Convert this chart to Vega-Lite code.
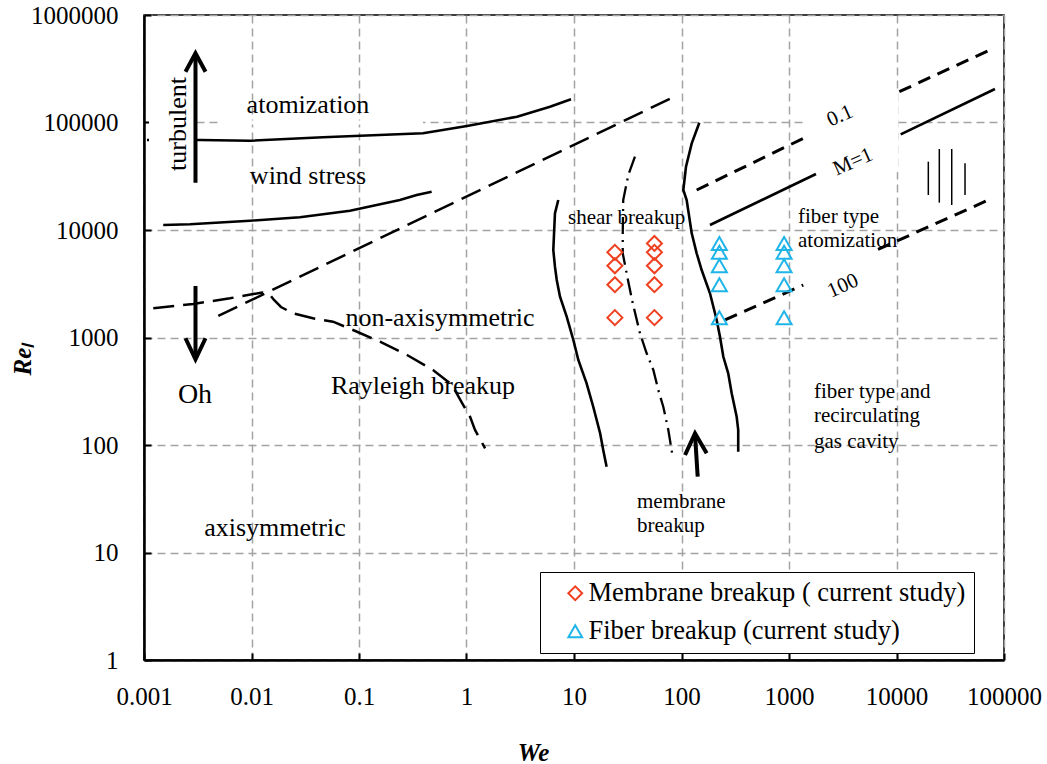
{
  "$schema": "https://vega.github.io/schema/vega-lite/v6.json",
  "width": 860,
  "height": 645,
  "autosize": {"type": "none"},
  "padding": {"left": 144, "top": 15, "right": 43, "bottom": 104},
  "background": "white",
  "config": {
    "view": {"stroke": "black", "strokeWidth": 1.5},
    "font": "Liberation Serif",
    "axis": {
      "grid": true,
      "gridColor": "#a3a3a3",
      "gridDash": [8, 5],
      "gridWidth": 1.5,
      "domainColor": "black",
      "domainWidth": 2.5,
      "tickColor": "black",
      "tickWidth": 2,
      "tickSize": -7,
      "labelFont": "Liberation Serif",
      "labelFontSize": 25,
      "labelColor": "black",
      "labelFlush": false,
      "labelOverlap": false,
      "titleFont": "Liberation Serif",
      "titleFontSize": 25,
      "titleFontStyle": "italic",
      "titleFontWeight": "bold",
      "titleColor": "black"
    }
  },
  "datasets": {
    "solid": [
      {"s": "atomization", "i": 0, "We": 0.001066, "Re": 68700},
      {"s": "atomization", "i": 1, "We": 0.00332, "Re": 68700},
      {"s": "atomization", "i": 2, "We": 0.00968, "Re": 67700},
      {"s": "atomization", "i": 3, "We": 0.0462, "Re": 72800},
      {"s": "atomization", "i": 4, "We": 0.394, "Re": 79300},
      {"s": "atomization", "i": 5, "We": 1.01, "Re": 92800},
      {"s": "atomization", "i": 6, "We": 2.95, "Re": 113200},
      {"s": "atomization", "i": 7, "We": 5.98, "Re": 140300},
      {"s": "atomization", "i": 8, "We": 9.38, "Re": 164300},
      {"s": "windstress", "i": 0, "We": 0.00151, "Re": 11130},
      {"s": "windstress", "i": 1, "We": 0.00268, "Re": 11300},
      {"s": "windstress", "i": 2, "We": 0.00968, "Re": 12200},
      {"s": "windstress", "i": 3, "We": 0.0282, "Re": 13130},
      {"s": "windstress", "i": 4, "We": 0.0824, "Re": 15130},
      {"s": "windstress", "i": 5, "We": 0.24, "Re": 19010},
      {"s": "windstress", "i": 6, "We": 0.344, "Re": 21170},
      {"s": "windstress", "i": 7, "We": 0.474, "Re": 22720},
      {"s": "shear", "i": 0, "We": 7.14, "Re": 19010},
      {"s": "shear", "i": 1, "We": 6.65, "Re": 14290},
      {"s": "shear", "i": 2, "We": 6.42, "Re": 6510},
      {"s": "shear", "i": 3, "We": 6.65, "Re": 4560},
      {"s": "shear", "i": 4, "We": 6.91, "Re": 3430},
      {"s": "shear", "i": 5, "We": 7.41, "Re": 2400},
      {"s": "shear", "i": 6, "We": 8.55, "Re": 1561},
      {"s": "shear", "i": 7, "We": 9.86, "Re": 948},
      {"s": "shear", "i": 8, "We": 10.97, "Re": 618},
      {"s": "shear", "i": 9, "We": 13.1, "Re": 375},
      {"s": "shear", "i": 10, "We": 15.1, "Re": 227},
      {"s": "shear", "i": 11, "We": 17.5, "Re": 128.5},
      {"s": "shear", "i": 12, "We": 18.7, "Re": 89.8},
      {"s": "shear", "i": 13, "We": 20.1, "Re": 62.8},
      {"s": "fiber", "i": 0, "We": 146.5, "Re": 99600},
      {"s": "fiber", "i": 1, "We": 124.5, "Re": 63900},
      {"s": "fiber", "i": 2, "We": 110.1, "Re": 38800},
      {"s": "fiber", "i": 3, "We": 104, "Re": 23550},
      {"s": "fiber", "i": 4, "We": 111.7, "Re": 19010},
      {"s": "fiber", "i": 5, "We": 124.5, "Re": 9310},
      {"s": "fiber", "i": 6, "We": 138.4, "Re": 6070},
      {"s": "fiber", "i": 7, "We": 154, "Re": 4245},
      {"s": "fiber", "i": 8, "We": 184, "Re": 2578},
      {"s": "fiber", "i": 9, "We": 212.5, "Re": 1455},
      {"s": "fiber", "i": 10, "We": 228, "Re": 1017},
      {"s": "fiber", "i": 11, "We": 245, "Re": 662},
      {"s": "fiber", "i": 12, "We": 272, "Re": 464},
      {"s": "fiber", "i": 13, "We": 293, "Re": 303},
      {"s": "fiber", "i": 14, "We": 326, "Re": 183},
      {"s": "fiber", "i": 15, "We": 337, "Re": 138},
      {"s": "fiber", "i": 16, "We": 337, "Re": 86.7},
      {"s": "mach1a", "i": 0, "We": 184, "Re": 11130},
      {"s": "mach1a", "i": 1, "We": 1782, "Re": 33180},
      {"s": "mach1b", "i": 0, "We": 10940, "Re": 77640},
      {"s": "mach1b", "i": 1, "We": 82400, "Re": 205000}
    ],
    "longdash": [
      {"s": "diagonal", "i": 0, "We": 0.00491, "Re": 1585},
      {"s": "diagonal", "i": 1, "We": 85.2, "Re": 173800},
      {"s": "rayleigh", "i": 0, "We": 0.00122, "Re": 1869},
      {"s": "rayleigh", "i": 1, "We": 0.00286, "Re": 2050},
      {"s": "rayleigh", "i": 2, "We": 0.00631, "Re": 2317},
      {"s": "rayleigh", "i": 3, "We": 0.01253, "Re": 2622},
      {"s": "rayleigh", "i": 4, "We": 0.01486, "Re": 2485},
      {"s": "rayleigh", "i": 5, "We": 0.0162, "Re": 2233},
      {"s": "rayleigh", "i": 6, "We": 0.01881, "Re": 1922},
      {"s": "rayleigh", "i": 7, "We": 0.0243, "Re": 1679},
      {"s": "rayleigh", "i": 8, "We": 0.0373, "Re": 1510},
      {"s": "rayleigh", "i": 9, "We": 0.0573, "Re": 1403},
      {"s": "rayleigh", "i": 10, "We": 0.0879, "Re": 1175},
      {"s": "rayleigh", "i": 11, "We": 0.1566, "Re": 914},
      {"s": "rayleigh", "i": 12, "We": 0.28, "Re": 687},
      {"s": "rayleigh", "i": 13, "We": 0.488, "Re": 499},
      {"s": "rayleigh", "i": 14, "We": 0.733, "Re": 362},
      {"s": "rayleigh", "i": 15, "We": 0.908, "Re": 246},
      {"s": "rayleigh", "i": 16, "We": 1.08, "Re": 183},
      {"s": "rayleigh", "i": 17, "We": 1.2, "Re": 138},
      {"s": "rayleigh", "i": 18, "We": 1.49, "Re": 93}
    ],
    "shortdash": [
      {"s": "m01a", "i": 0, "We": 138.4, "Re": 23550},
      {"s": "m01a", "i": 1, "We": 1462, "Re": 73800},
      {"s": "m01b", "i": 0, "We": 10620, "Re": 193400},
      {"s": "m01b", "i": 1, "We": 71450, "Re": 465500},
      {"s": "m100a", "i": 0, "We": 254, "Re": 1455},
      {"s": "m100a", "i": 1, "We": 1358, "Re": 3077},
      {"s": "m100b", "i": 0, "We": 6730, "Re": 6600},
      {"s": "m100b", "i": 1, "We": 74100, "Re": 19310}
    ],
    "dashdot": [
      {"s": "membrane", "i": 0, "We": 36.9, "Re": 48080},
      {"s": "membrane", "i": 1, "We": 32.0, "Re": 32500},
      {"s": "membrane", "i": 2, "We": 28.7, "Re": 19010},
      {"s": "membrane", "i": 3, "We": 28.4, "Re": 9310},
      {"s": "membrane", "i": 4, "We": 28.4, "Re": 6070},
      {"s": "membrane", "i": 5, "We": 31.3, "Re": 3680},
      {"s": "membrane", "i": 6, "We": 35.2, "Re": 2080},
      {"s": "membrane", "i": 7, "We": 41.1, "Re": 1094},
      {"s": "membrane", "i": 8, "We": 47.4, "Re": 713},
      {"s": "membrane", "i": 9, "We": 54.7, "Re": 499},
      {"s": "membrane", "i": 10, "We": 60.8, "Re": 325},
      {"s": "membrane", "i": 11, "We": 67.7, "Re": 227},
      {"s": "membrane", "i": 12, "We": 75.4, "Re": 138},
      {"s": "membrane", "i": 13, "We": 82.8, "Re": 77.8}
    ],
    "arrows": [
      {"s": "turbShaft", "i": 0, "We": 0.003013, "Re": 27540},
      {"s": "turbShaft", "i": 1, "We": 0.003013, "Re": 430000},
      {"s": "turbHead", "i": 0, "We": 0.002432, "Re": 297000},
      {"s": "turbHead", "i": 1, "We": 0.003013, "Re": 440400},
      {"s": "turbHead", "i": 2, "We": 0.003736, "Re": 297000},
      {"s": "ohShaft", "i": 0, "We": 0.003013, "Re": 3013},
      {"s": "ohShaft", "i": 1, "We": 0.003013, "Re": 640},
      {"s": "ohHead", "i": 0, "We": 0.002432, "Re": 984},
      {"s": "ohHead", "i": 1, "We": 0.003013, "Re": 627},
      {"s": "ohHead", "i": 2, "We": 0.003736, "Re": 984},
      {"s": "memShaft", "i": 0, "We": 141.5, "Re": 50.7},
      {"s": "memShaft", "i": 1, "We": 133.6, "Re": 125},
      {"s": "memHead", "i": 0, "We": 107.9, "Re": 80.7},
      {"s": "memHead", "i": 1, "We": 133.6, "Re": 128.5},
      {"s": "memHead", "i": 2, "We": 171.5, "Re": 83.7}
    ],
    "hatch": [
      {"We": 19770, "Re": 43190, "Re2": 21170},
      {"We": 25020, "Re": 56700, "Re2": 17950},
      {"We": 32640, "Re": 56700, "Re2": 17090},
      {"We": 43390, "Re": 41730, "Re2": 21170}
    ],
    "gridMasks": [
      {"We": 0.00531, "We2": 0.394, "Re": 95940, "Re2": 104230},
      {"We": 1469, "We2": 10330, "Re": 34640, "Re2": 188000}
    ],
    "labelMask": [
      {"We": 0.001113, "We2": 0.00311, "Re": 26220, "Re2": 381400}
    ],
    "points": [
      {"series": "Membrane breakup ( current study)", "We": 24, "Re": 6200},
      {"series": "Membrane breakup ( current study)", "We": 24, "Re": 4650},
      {"series": "Membrane breakup ( current study)", "We": 24, "Re": 3100},
      {"series": "Membrane breakup ( current study)", "We": 24, "Re": 1530},
      {"series": "Membrane breakup ( current study)", "We": 56, "Re": 7500},
      {"series": "Membrane breakup ( current study)", "We": 56, "Re": 6200},
      {"series": "Membrane breakup ( current study)", "We": 56, "Re": 4650},
      {"series": "Membrane breakup ( current study)", "We": 56, "Re": 3100},
      {"series": "Membrane breakup ( current study)", "We": 56, "Re": 1530},
      {"series": "Fiber breakup (current study)", "We": 225, "Re": 7500},
      {"series": "Fiber breakup (current study)", "We": 225, "Re": 6200},
      {"series": "Fiber breakup (current study)", "We": 225, "Re": 4650},
      {"series": "Fiber breakup (current study)", "We": 225, "Re": 3100},
      {"series": "Fiber breakup (current study)", "We": 225, "Re": 1530},
      {"series": "Fiber breakup (current study)", "We": 900, "Re": 7500},
      {"series": "Fiber breakup (current study)", "We": 900, "Re": 6200},
      {"series": "Fiber breakup (current study)", "We": 900, "Re": 4650},
      {"series": "Fiber breakup (current study)", "We": 900, "Re": 3100},
      {"series": "Fiber breakup (current study)", "We": 900, "Re": 1530}
    ],
    "regimeLabels": [
      {"t": "atomization", "We": 0.03354, "Re": 145500},
      {"t": "wind stress", "We": 0.03354, "Re": 31790},
      {"t": "non-axisymmetric", "We": 0.5669, "Re": 1519},
      {"t": "Rayleigh breakup", "We": 0.3938, "Re": 353.9},
      {"t": "axisymmetric", "We": 0.01654, "Re": 16.9}
    ],
    "ohLabel": [
      {"t": "Oh", "We": 0.002981, "Re": 291.8}
    ],
    "turbLabel": [
      {"t": "turbulent", "We": 0.002071, "Re": 96830}
    ],
    "noteLabels": [
      {"t": "shear breakup", "We": 8.79, "Re": 12930},
      {"t": "fiber type", "We": 1213, "Re": 13210},
      {"t": "atomization", "We": 1213, "Re": 7901},
      {"t": "membrane", "We": 38.55, "Re": 29.5},
      {"t": "breakup", "We": 38.55, "Re": 17.64},
      {"t": "fiber type and", "We": 1708, "Re": 311.2},
      {"t": "recirculating", "We": 1708, "Re": 186.1},
      {"t": "gas cavity", "We": 1708, "Re": 106.6}
    ],
    "lineLabels": [
      {"t": "0.1", "We": 2982, "Re": 114960},
      {"t": "M=1", "We": 3938, "Re": 42920},
      {"t": "100", "We": 3180, "Re": 3014}
    ]
  },
  "encoding": {
    "x": {
      "field": "We",
      "type": "quantitative",
      "scale": {"type": "log", "domain": [0.001, 100000], "nice": false},
      "axis": {
        "title": "We",
        "values": [0.001, 0.01, 0.1, 1, 10, 100, 1000, 10000, 100000],
        "labelExpr": "datum.value < 1 ? format(datum.value, '.3~f') : format(datum.value, 'd')",
        "labelPadding": 31,
        "titleX": 389,
        "titleY": 92,
        "titleAlign": "center",
        "titleBaseline": "middle"
      }
    },
    "y": {
      "field": "Re",
      "type": "quantitative",
      "scale": {"type": "log", "domain": [1, 1000000], "nice": false},
      "axis": {
        "title": "Reₗ",
        "values": [1, 10, 100, 1000, 10000, 100000, 1000000],
        "labelExpr": "format(datum.value, 'd')",
        "labelPadding": 33,
        "titleX": -122,
        "titleY": 344,
        "titleAlign": "center",
        "titleBaseline": "middle"
      }
    }
  },
  "layer": [
    {
      "data": {"name": "gridMasks"},
      "mark": {"type": "rect", "color": "white"},
      "encoding": {"x2": {"field": "We2"}, "y2": {"field": "Re2"}}
    },
    {
      "data": {"name": "longdash"},
      "mark": {"type": "line", "color": "black", "strokeWidth": 2.5, "strokeDash": [21, 9]},
      "encoding": {"detail": {"field": "s"}, "order": {"field": "i", "type": "quantitative"}}
    },
    {
      "data": {"name": "dashdot"},
      "mark": {"type": "line", "color": "black", "strokeWidth": 2.3, "strokeDash": [17, 6, 2, 6]},
      "encoding": {"detail": {"field": "s"}, "order": {"field": "i", "type": "quantitative"}}
    },
    {
      "data": {"name": "solid"},
      "mark": {"type": "line", "color": "black", "strokeWidth": 2.6},
      "encoding": {"detail": {"field": "s"}, "order": {"field": "i", "type": "quantitative"}}
    },
    {
      "data": {"name": "shortdash"},
      "mark": {"type": "line", "color": "black", "strokeWidth": 3, "strokeDash": [13, 8]},
      "encoding": {"detail": {"field": "s"}, "order": {"field": "i", "type": "quantitative"}}
    },
    {
      "data": {"name": "hatch"},
      "mark": {"type": "rule", "color": "black", "strokeWidth": 1.5},
      "encoding": {"y2": {"field": "Re2"}}
    },
    {
      "data": {"name": "labelMask"},
      "mark": {"type": "rect", "color": "white"},
      "encoding": {"x2": {"field": "We2"}, "y2": {"field": "Re2"}}
    },
    {
      "data": {"name": "arrows"},
      "mark": {"type": "line", "color": "black", "strokeWidth": 4, "strokeJoin": "miter", "strokeCap": "butt"},
      "encoding": {"detail": {"field": "s"}, "order": {"field": "i", "type": "quantitative"}}
    },
    {
      "data": {"name": "points"},
      "mark": {"type": "point", "filled": false, "strokeWidth": 2, "size": 225, "opacity": 1},
      "encoding": {
        "color": {
          "field": "series",
          "type": "nominal",
          "scale": {"domain": ["Membrane breakup ( current study)", "Fiber breakup (current study)"], "range": ["#ef4020", "#1fb5e8"]},
          "legend": {
            "orient": "none",
            "legendX": 396,
            "legendY": 557,
            "title": null,
            "direction": "vertical",
            "fillColor": "white",
            "strokeColor": "black",
            "padding": 8,
            "symbolOffset": 14,
            "symbolSize": 190,
            "symbolStrokeWidth": 2,
            "labelFont": "Liberation Serif",
            "labelFontSize": 26.5,
            "labelColor": "black",
            "labelLimit": 600,
            "labelOffset": 0,
            "rowPadding": 11
          }
        },
        "shape": {
          "field": "series",
          "type": "nominal",
          "scale": {"domain": ["Membrane breakup ( current study)", "Fiber breakup (current study)"], "range": ["diamond", "triangle-up"]},
          "legend": {
            "orient": "none",
            "legendX": 396,
            "legendY": 557,
            "title": null,
            "direction": "vertical",
            "fillColor": "white",
            "strokeColor": "black",
            "padding": 8,
            "symbolOffset": 14,
            "symbolSize": 190,
            "symbolStrokeWidth": 2,
            "labelFont": "Liberation Serif",
            "labelFontSize": 26.5,
            "labelColor": "black",
            "labelLimit": 600,
            "labelOffset": 0,
            "rowPadding": 11
          }
        }
      }
    },
    {
      "data": {"name": "regimeLabels"},
      "mark": {"type": "text", "font": "Liberation Serif", "fontSize": 26, "color": "black", "align": "center", "baseline": "middle"},
      "encoding": {"text": {"field": "t"}}
    },
    {
      "data": {"name": "ohLabel"},
      "mark": {"type": "text", "font": "Liberation Serif", "fontSize": 28, "color": "black", "align": "center", "baseline": "middle"},
      "encoding": {"text": {"field": "t"}}
    },
    {
      "data": {"name": "turbLabel"},
      "mark": {"type": "text", "font": "Liberation Serif", "fontSize": 26, "color": "black", "align": "center", "baseline": "middle", "angle": 270},
      "encoding": {"text": {"field": "t"}}
    },
    {
      "data": {"name": "noteLabels"},
      "mark": {"type": "text", "font": "Liberation Serif", "fontSize": 21, "color": "black", "align": "left", "baseline": "middle"},
      "encoding": {"text": {"field": "t"}}
    },
    {
      "data": {"name": "lineLabels"},
      "mark": {"type": "text", "font": "Liberation Serif", "fontSize": 21, "color": "black", "align": "center", "baseline": "middle", "angle": 336},
      "encoding": {"text": {"field": "t"}}
    }
  ]
}
